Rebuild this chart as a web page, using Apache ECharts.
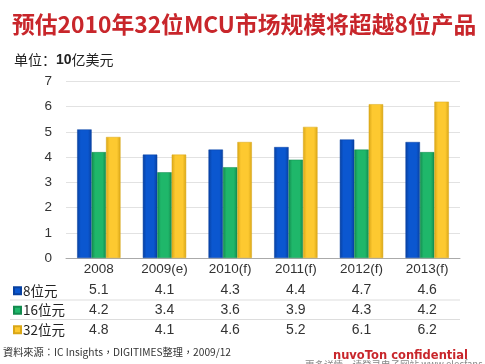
<!DOCTYPE html>
<html><head><meta charset="utf-8">
<script src="https://cdn.jsdelivr.net/npm/echarts@6/dist/echarts.min.js"></script>
<style>html,body{margin:0;padding:0;background:#fff}#c{width:485px;height:364px}</style>
</head><body><div id="c"></div>
<script>
const categories = ['2008','2009(e)','2010(f)','2011(f)','2012(f)','2013(f)'];
const seriesNames = ['8位元','16位元','32位元'];
const bit8 = [5.1, 4.1, 4.3, 4.4, 4.7, 4.6];
const bit16 = [4.2, 3.4, 3.6, 3.9, 4.3, 4.2];
const bit32 = [4.8, 4.1, 4.6, 5.2, 6.1, 6.2];
const yTicks = [0,1,2,3,4,5,6,7];

const FONT = '"Liberation Sans", "Noto Sans CJK SC", sans-serif';
const CJK = '"Noto Sans CJK SC", "Liberation Sans", sans-serif';
const colors = ['#0b57d0', '#1fb76a', '#fdc930'];
const edge = ['#0840a0', '#138a4e', '#d9a617'];
function grad(i){
  return {type:'linear',x:0,y:0,x2:1,y2:0,colorStops:[
    {offset:0,color:edge[i]},{offset:0.25,color:colors[i]},{offset:0.75,color:colors[i]},{offset:1,color:edge[i]}]};
}
const dataSets = [bit8, bit16, bit32];
const chart = echarts.init(document.getElementById('c'));
const rowAxes = dataSets.map((d,i)=>({
  type:'category', gridIndex:0, position:'bottom', offset: 20*(i+1),
  data: d.map(v=>v.toFixed(1)),
  axisLine:{show:false}, axisTick:{show:false}, splitLine:{show:false},
  axisLabel:{color:'#333', fontSize:14, fontFamily:FONT, margin:5, interval:0}
}));
chart.setOption({
  animation:false,
  title:[
    {text:'预估2010年32位MCU市场规模将超越8位产品', left:7, top:8,
     textStyle:{color:'#c8262b', fontSize:22.8, fontWeight:'bold', fontFamily:CJK}},
    {text:'{a|单位：}{b|10}{a|亿美元}', left:9, top:48,
     textStyle:{fontWeight:'normal', rich:{a:{fontSize:14,color:'#222',fontWeight:'normal',fontFamily:CJK},b:{fontSize:14,color:'#222',fontWeight:'bold',fontFamily:FONT}}}}
  ],
  legend:{orient:'vertical', left:8, top:279, itemWidth:7, itemHeight:7, itemGap:6,
    icon:'rect', data:seriesNames,
    textStyle:{fontSize:13.5, color:'#222', fontFamily:CJK, padding:[0,0,0,-3]}},
  grid:{left:66, right:25, top:81.5, bottom:106, containLabel:false},
  xAxis:[{type:'category', data:categories,
    axisLine:{lineStyle:{color:'#aaa'}}, axisTick:{show:false},
    axisLabel:{color:'#333', fontSize:13.5, fontFamily:FONT, margin:5, interval:0}}].concat(rowAxes),
  yAxis:{type:'value', min:yTicks[0], max:yTicks[yTicks.length-1], interval:1,
    axisLine:{show:false}, axisTick:{show:false},
    axisLabel:{color:'#333', fontSize:13.5, fontFamily:FONT, margin:14},
    splitLine:{lineStyle:{color:'#e2e2e2', width:1}}},
  series: dataSets.map((d,i)=>({
    name:seriesNames[i], type:'bar', data:d, barGap:'0%', barCategoryGap:'34%',
    itemStyle:{color:grad(i), borderColor:edge[i], borderWidth:0.5},
    xAxisIndex:0
  })),
  graphic:[
    {type:'line', shape:{x1:10,y1:300,x2:460,y2:300}, style:{stroke:'#ddd',lineWidth:1}},
    {type:'line', shape:{x1:10,y1:319.5,x2:460,y2:319.5}, style:{stroke:'#ddd',lineWidth:1}},
    {type:'text', left:3, top:347, style:{text:'資料來源：IC Insights，DIGITIMES整理，2009/12', fontSize:10.2, fill:'#333', fontFamily:'"Noto Sans CJK TC", sans-serif'}},
    {type:'text', left:333, top:350, style:{text:'nuvoTon confidential', fontSize:11.5, fontWeight:'bold', fill:'#c8262b', fontFamily:'"DejaVu Sans", sans-serif'}},
    {type:'text', left:305, top:360, style:{text:'更多详情，请登录电子网站 www.elecfans.com', fontSize:9.5, fill:'#888', fontFamily:CJK}}
  ]
});
</script></body></html>
